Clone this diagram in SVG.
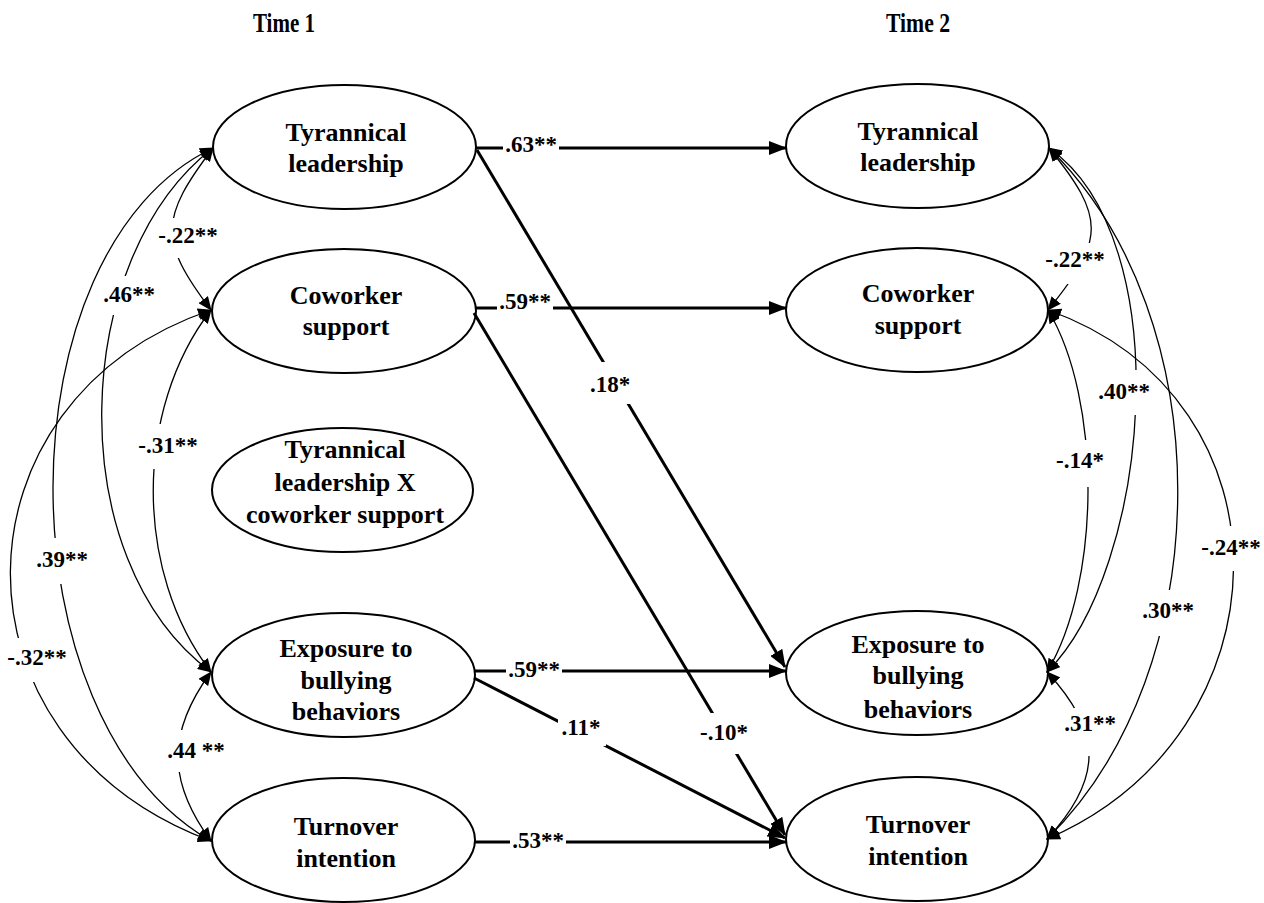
<svg xmlns="http://www.w3.org/2000/svg" width="1264" height="903" viewBox="0 0 1264 903">
<defs>
<style>
.nt{font-family:"Liberation Serif","Times New Roman",serif;font-weight:bold;font-size:26px;text-anchor:middle;fill:#000}
.lb{font-family:"Liberation Serif","Times New Roman",serif;font-weight:bold;font-size:23px;text-anchor:middle;fill:#000}
.tt{font-family:"Liberation Serif","Times New Roman",serif;font-weight:bold;font-size:27px;text-anchor:middle;fill:#000}
.nd{fill:#fff;stroke:#000;stroke-width:2}
.pa{fill:none;stroke:#000;stroke-width:3;marker-end:url(#ah)}
.cv{fill:none;stroke:#000;stroke-width:1.3;marker-start:url(#sh);marker-end:url(#sh)}
.gap{fill:#fff;stroke:none}
</style>
<marker id="ah" viewBox="0 0 18 14" refX="17" refY="7" markerWidth="18" markerHeight="14" markerUnits="userSpaceOnUse" orient="auto"><path d="M0,0 L18,7 L0,14 z" fill="#000"/></marker>
<marker id="sh" viewBox="0 0 14 12" refX="13" refY="6" markerWidth="14" markerHeight="12" markerUnits="userSpaceOnUse" orient="auto-start-reverse"><path d="M0,0 L14,6 L0,12 z" fill="#000"/></marker>
</defs>
<rect width="1264" height="903" fill="#fff"/>
<g id="titles">
<text class="tt" x="284" y="32" textLength="62" lengthAdjust="spacingAndGlyphs">Time 1</text>
<text class="tt" x="918" y="32" textLength="64" lengthAdjust="spacingAndGlyphs">Time 2</text>
</g>
<g id="t1-tyrannical"><ellipse class="nd" cx="344.5" cy="147" rx="131.5" ry="62"/><text class="nt" x="346" y="141">Tyrannical</text><text class="nt" x="346" y="172">leadership</text></g>
<g id="t1-coworker"><ellipse class="nd" cx="344" cy="311" rx="132" ry="62"/><text class="nt" x="346" y="304">Coworker</text><text class="nt" x="346" y="335">support</text></g>
<g id="t1-interaction"><ellipse class="nd" cx="342.5" cy="490" rx="130.5" ry="62"/><text class="nt" x="345" y="458">Tyrannical</text><text class="nt" x="345" y="491">leadership X</text><text class="nt" x="345" y="523">coworker support</text></g>
<g id="t1-exposure"><ellipse class="nd" cx="343.5" cy="675" rx="131.5" ry="62"/><text class="nt" x="346" y="657">Exposure to</text><text class="nt" x="346" y="689">bullying</text><text class="nt" x="346" y="720">behaviors</text></g>
<g id="t1-turnover"><ellipse class="nd" cx="343.5" cy="840" rx="131.5" ry="62"/><text class="nt" x="346" y="835">Turnover</text><text class="nt" x="346" y="867">intention</text></g>
<g id="t2-tyrannical"><ellipse class="nd" cx="917.5" cy="146" rx="131.5" ry="62"/><text class="nt" x="918" y="140">Tyrannical</text><text class="nt" x="918" y="171">leadership</text></g>
<g id="t2-coworker"><ellipse class="nd" cx="917" cy="310" rx="131" ry="62"/><text class="nt" x="918" y="302">Coworker</text><text class="nt" x="918" y="334">support</text></g>
<g id="t2-exposure"><ellipse class="nd" cx="917" cy="673" rx="131" ry="62"/><text class="nt" x="918" y="653">Exposure to</text><text class="nt" x="918" y="684">bullying</text><text class="nt" x="918" y="718">behaviors</text></g>
<g id="t2-turnover"><ellipse class="nd" cx="917" cy="839" rx="131" ry="62"/><text class="nt" x="918" y="833">Turnover</text><text class="nt" x="918" y="865">intention</text></g>
<g id="connectors">
<line class="pa" x1="476" y1="148" x2="786" y2="148"/>
<line class="pa" x1="475" y1="308" x2="786" y2="308"/>
<line class="pa" x1="475" y1="671" x2="786" y2="671"/>
<line class="pa" x1="475" y1="842" x2="786" y2="842"/>
<line class="pa" x1="477" y1="150" x2="785" y2="667"/>
<line class="pa" x1="474" y1="313" x2="785" y2="835"/>
<line class="pa" x1="474" y1="678" x2="785" y2="838"/>
<rect class="gap" x="503" y="135" width="56" height="20"/><text class="lb" x="531" y="152">.63**</text>
<rect class="gap" x="497" y="292" width="56" height="20"/><text class="lb" x="525" y="309">.59**</text>
<rect class="gap" x="590" y="362" width="42" height="42"/><text class="lb" x="610" y="392">.18*</text>
<rect class="gap" x="506" y="660" width="56" height="20"/><text class="lb" x="534" y="677">.59**</text>
<rect class="gap" x="558" y="714" width="48" height="32"/><text class="lb" x="581" y="735">.11*</text>
<rect class="gap" x="699" y="713" width="51" height="41"/><text class="lb" x="724" y="740">-.10*</text>
<rect class="gap" x="510" y="831" width="56" height="20"/><text class="lb" x="538" y="848">.53**</text>
<path class="cv" d="M213,148 C160,218 158,240 211,310"/>
<rect class="gap" x="158" y="218" width="62" height="40"/><text class="lb" x="188" y="243">-.22**</text>
<path class="cv" d="M213,148 C70,258 60,560 211,672"/>
<rect class="gap" x="103" y="276" width="53" height="39"/><text class="lb" x="129" y="302">.46**</text>
<path class="cv" d="M211,310 C134,410 134,572 211,672"/>
<rect class="gap" x="137" y="424" width="62" height="45"/><text class="lb" x="168" y="453">-.31**</text>
<path class="cv" d="M211,672 C167,732 167,781 211,841"/>
<rect class="gap" x="167" y="730" width="60" height="42"/><text class="lb" x="196" y="758">.44 **</text>
<path class="cv" d="M213,148 C0,250 0,720 211,841"/>
<rect class="gap" x="36" y="538" width="53" height="46"/><text class="lb" x="62" y="567">.39**</text>
<path class="cv" d="M211,310 C-53,400 -60,740 211,841"/>
<rect class="gap" x="6" y="638" width="63" height="44"/><text class="lb" x="37" y="665">-.32**</text>
<path class="cv" d="M1049,148 C1106,218 1105,240 1048,310"/>
<rect class="gap" x="1045" y="243" width="61" height="41"/><text class="lb" x="1075" y="267">-.22**</text>
<path class="cv" d="M1049,148 C1180,240 1150,570 1047,672"/>
<rect class="gap" x="1098" y="370" width="53" height="45"/><text class="lb" x="1124" y="399">.40**</text>
<path class="cv" d="M1048,310 C1102,400 1101,582 1047,672"/>
<rect class="gap" x="1055" y="440" width="50" height="47"/><text class="lb" x="1080" y="468">-.14*</text>
<path class="cv" d="M1047,672 C1103,732 1103,779 1047,839"/>
<rect class="gap" x="1063" y="708" width="54" height="48"/><text class="lb" x="1090" y="731">.31**</text>
<path class="cv" d="M1049,148 C1222,318 1220,669 1047,839"/>
<rect class="gap" x="1141" y="590" width="54" height="46"/><text class="lb" x="1168" y="618">.30**</text>
<path class="cv" d="M1048,310 C1300,400 1291,734 1047,839"/>
<rect class="gap" x="1200" y="526" width="62" height="45"/><text class="lb" x="1231" y="555">-.24**</text>
</g>
</svg>
